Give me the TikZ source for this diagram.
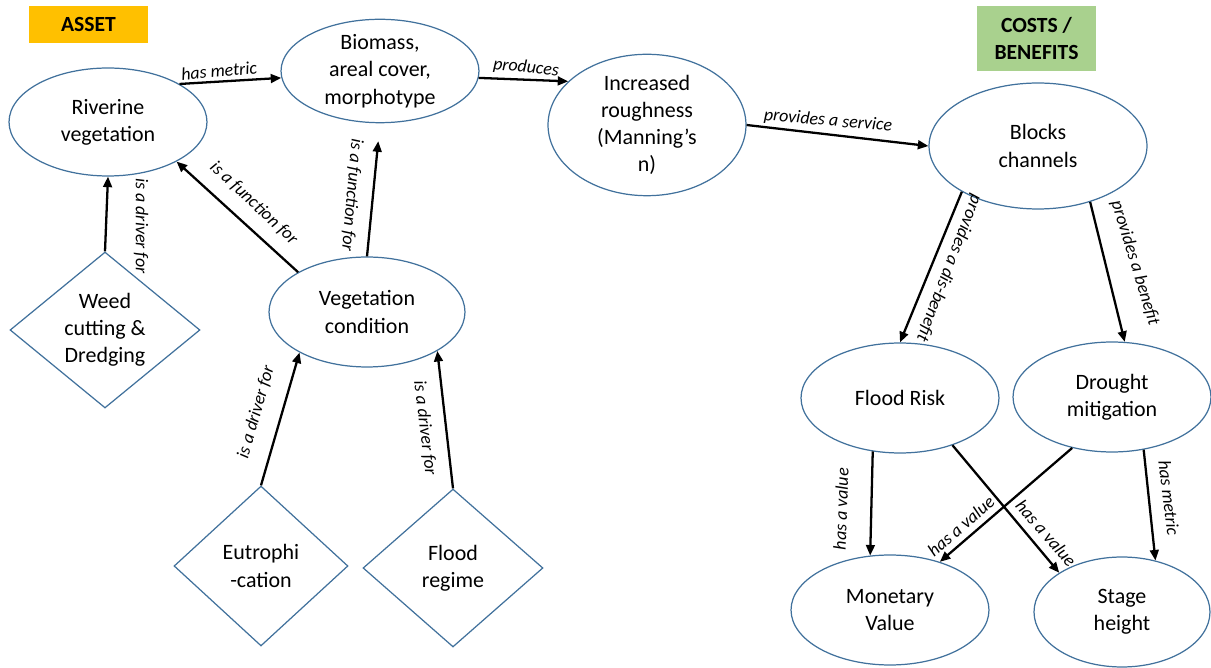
\documentclass[tikz,border=0pt]{standalone}
\usepackage{fontspec}
\setmainfont{Carlito}
\usetikzlibrary{shapes.geometric,arrows.meta}
\definecolor{outline}{RGB}{65,113,156}
\definecolor{assetfill}{RGB}{255,192,0}
\definecolor{costfill}{RGB}{169,209,142}
\begin{document}
\begin{tikzpicture}[x=0.02cm,y=-0.02cm,
  concept/.style={ellipse, draw=outline, line width=0.7pt, align=center, inner sep=0pt,
    font=\fontsize{12.5}{15.5}\selectfont},
  driver/.style={diamond, draw=outline, line width=0.7pt, align=center, inner sep=0pt,
    font=\fontsize{12.5}{15.5}\selectfont},
  header/.style={rectangle, inner sep=0pt, align=center, font=\fontsize{12.3}{15.5}\selectfont\bfseries},
  link/.style={line width=1.3pt, -{Triangle[length=6pt,width=5pt]}},
  tag/.style={font=\fontsize{10.2}{12}\selectfont\itshape, inner sep=0pt}]
\useasboundingbox (0,0) rectangle (1211,668);

% section headers
\node[header, fill=assetfill, minimum width=2.38cm, minimum height=0.74cm] (asset) at (88.5,24.5) {ASSET};
\node[header, fill=costfill, minimum width=2.38cm, minimum height=1.3cm] (costs) at (1036.5,38.5) {COSTS /\\BENEFITS};

% asset side
\node[concept, minimum width=3.96cm, minimum height=2.16cm] (riv) at (108,122) {Riverine\\vegetation};
\node[concept, minimum width=3.96cm, minimum height=1.76cm] (bio) at (380,71) {Biomass,\\areal cover,\\morphotype};
\node[concept, minimum width=3.96cm, minimum height=2.2cm] (rough) at (647,125) {Increased\\roughness\\(Manning’s\\n)};
\node[concept, minimum width=3.92cm, minimum height=2.2cm] (veg) at (367,312) {Vegetation\\condition};
\node[driver, minimum width=3.8cm, minimum height=3.12cm] (weed) at (105,330) {Weed\\cutting \&\\Dredging};
\node[driver, minimum width=3.48cm, minimum height=3.2cm] (eut) at (261,566) {Eutrophi\\-cation};
\node[driver, minimum width=3.6cm, minimum height=3.16cm] (freg) at (453,568) {Flood\\regime};

% costs / benefits side
\node[concept, minimum width=4.36cm, minimum height=2.52cm] (blocks) at (1038,146) {Blocks\\channels};
\node[concept, minimum width=3.96cm, minimum height=2.2cm] (flood) at (900,398) {Flood Risk};
\node[concept, minimum width=3.96cm, minimum height=2.2cm] (drought) at (1112,397) {Drought\\mitigation};
\node[concept, minimum width=3.96cm, minimum height=2.2cm] (money) at (890,610) {Monetary\\Value};
\node[concept, minimum width=3.52cm, minimum height=2.2cm] (stage) at (1122,612) {Stage\\height};

% connectors
\draw[link] (riv.28) -- (bio.184);
\draw[link] (bio.-4) -- (rough.151);
\draw[link] (rough.0) -- (blocks.180);
\draw[link] (weed.north) -- (riv.south);
\draw[link] (veg.150) -- (riv.-30);
\draw[link, shorten >=0.36cm] (veg.north) -- (bio.south);
\draw[link] (eut.north) -- (veg.-149);
\draw[link] (freg.north) -- (veg.-29);
\draw[link] (blocks.-149) -- (flood.north);
\draw[link] (blocks.-47) -- (drought.77);
\draw[link] (flood.-117) -- (money.110);
\draw[link] (flood.-42) -- (stage.148);
\draw[link] (drought.-128) -- (money.44);
\draw[link] (drought.-59) -- (stage.57);

% connector labels
\node[tag, rotate=5] (t1) at (219,71) {has metric};
\node[tag, rotate=-6] (t2) at (526,68) {produces};
\node[tag, rotate=-5] (t3) at (828,121) {provides a service};
\node[tag, rotate=-90] (t4) at (141,226) {is a driver for};
\node[tag, rotate=-43] (t5) at (254,203) {is a function for};
\node[tag, rotate=-95] (t6) at (352,195) {is a function for};
\node[tag, rotate=74] (t7) at (256,412) {is a driver for};
\node[tag, rotate=-83] (t8) at (425,428) {is a driver for};
\node[tag, rotate=-111] (t9) at (949,268) {provides a dis-benefit};
\node[tag, rotate=-73] (t10) at (1135,263) {provides a benefit};
\node[tag, rotate=88] (t11) at (841,509) {has a value};
\node[tag, rotate=-49] (t12) at (1046,533) {has a value};
\node[tag, rotate=41] (t13) at (961,526) {has a value};
\node[tag, rotate=-83] (t14) at (1169,498) {has metric};
\end{tikzpicture}
\end{document}
